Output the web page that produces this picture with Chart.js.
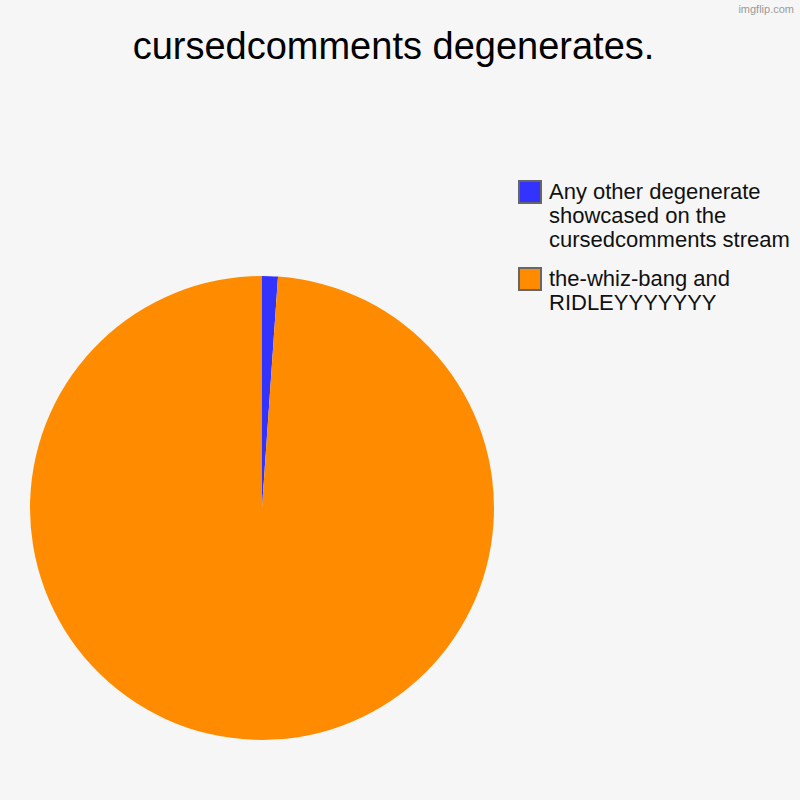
<!DOCTYPE html>
<html>
<head>
<meta charset="utf-8">
<script src="https://cdn.jsdelivr.net/npm/chart.js@4/dist/chart.umd.min.js"></script>
<style>
    html, body { margin: 0; padding: 0; }
    body { width: 800px; height: 800px; background: #f6f6f6; position: relative; overflow: hidden; font-family: "Liberation Sans", Arial, sans-serif; }
    #title { position: absolute; left: 0; top: 25px; width: 787px; text-align: center; font-size: 38px; color: #000; white-space: nowrap; }
    #watermark { position: absolute; right: 6px; top: 3px; font-size: 11px; color: #9a9a9a; }
    #pie-wrap { position: absolute; left: 29px; top: 275px; width: 466px; height: 466px; }
    #legend { position: absolute; left: 518px; top: 180px; }
    .legend-item { display: flex; align-items: flex-start; margin-bottom: 15px; }
    .legend-box { width: 20px; height: 20px; border: 2px solid #666; margin-right: 7px; flex: none; }
    .legend-text { font-size: 22px; line-height: 24px; color: #111; white-space: nowrap; }
</style>
</head>
<body>
<div id="watermark">imgflip.com</div>
<div id="title">cursedcomments degenerates.</div>
<div id="pie-wrap"><canvas id="pie" width="466" height="466"></canvas></div>
<div id="legend"></div>
<script>
// Chart data
const labels = [
    ['Any other degenerate', 'showcased on the', 'cursedcomments stream'],
    ['the-whiz-bang and', 'RIDLEYYYYYYY']
];
const values = [1.1, 98.9];
const colors = ['#3333ff', '#ff8c00'];

// Build legend
const legend = document.getElementById('legend');
labels.forEach((lines, i) => {
    const item = document.createElement('div');
    item.className = 'legend-item';
    const box = document.createElement('div');
    box.className = 'legend-box';
    box.style.background = colors[i];
    const text = document.createElement('div');
    text.className = 'legend-text';
    text.innerHTML = lines.join('<br>');
    item.appendChild(box);
    item.appendChild(text);
    legend.appendChild(item);
});

// Pie chart
new Chart(document.getElementById('pie'), {
    type: 'pie',
    data: {
        labels: labels.map(l => l.join(' ')),
        datasets: [{
            data: values,
            backgroundColor: colors,
            borderWidth: 0
        }]
    },
    options: {
        responsive: false,
        animation: false,
        layout: { padding: 1 },
        plugins: {
            legend: { display: false },
            tooltip: { enabled: false }
        }
    }
});
</script>
</body>
</html>
